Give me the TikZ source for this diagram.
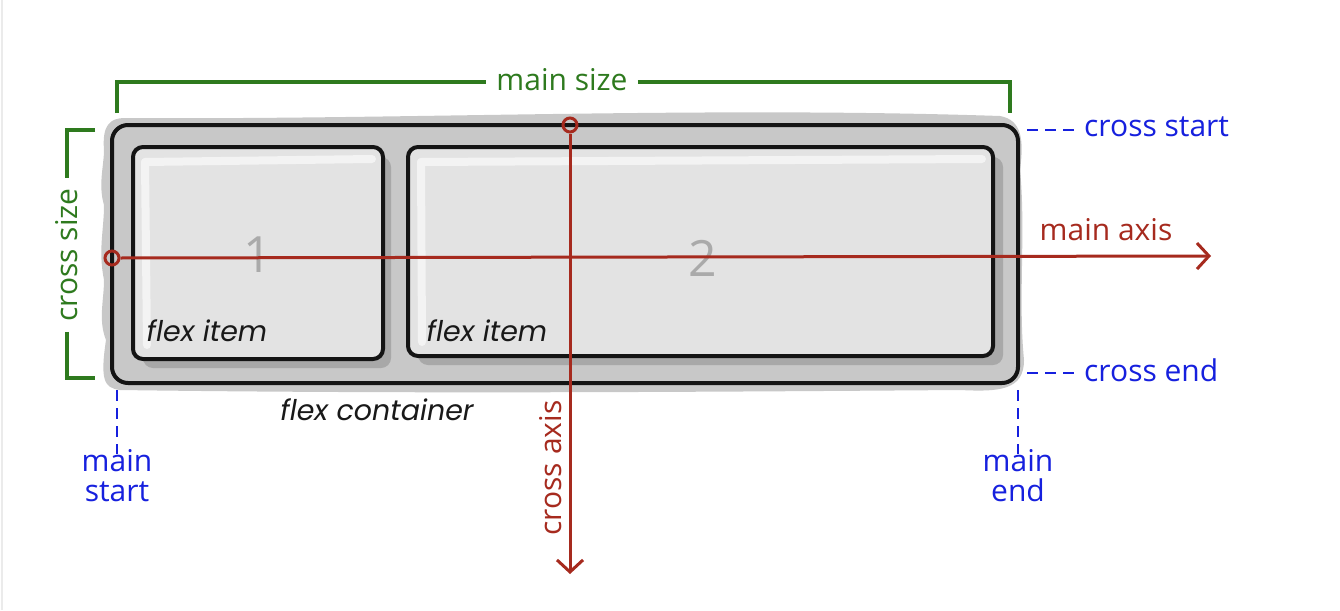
\documentclass[tikz,border=0pt]{standalone}
\usepackage{fontspec}
\setmainfont{Open Sans}
\newfontfamily\sketchfont{Poppins}
\usetikzlibrary{arrows.meta}
\definecolor{cgreen}{RGB}{46,122,30}
\definecolor{cred}{RGB}{166,42,30}
\definecolor{cblue}{RGB}{22,32,222}
\definecolor{shadeA}{RGB}{200,200,200}
\definecolor{shadeB}{RGB}{168,168,168}
\definecolor{itemfill}{RGB}{227,227,227}
\definecolor{numgray}{RGB}{170,170,170}
\tikzset{
  lbl/.style={font=\fontsize{30}{32}\selectfont, inner sep=0pt},
  ital/.style={font=\sketchfont\fontsize{28.5}{30}\selectfont\itshape, inner sep=0pt, text=black!90},
  num/.style={font=\fontsize{50}{52}\selectfont, inner sep=0pt, text=numgray},
  itembox/.style={draw=black!92, line width=4pt, fill=itemfill, rounded corners=10pt},
  itemshadow/.style={fill=shadeB, rounded corners=10pt},
  sizeline/.style={draw=cgreen, line width=3.5pt},
  axisline/.style={draw=cred, line width=3pt},
  axisarrow/.style={axisline, -{Straight Barb[length=12pt,width=26pt,line width=3pt]}},
  origin/.style={circle, draw=cred, line width=3pt, fill=none, minimum size=14pt, inner sep=0pt},
  guide/.style={draw=cblue, line width=2.5pt, dash pattern=on 11pt off 7pt},
}
\begin{document}
\begin{tikzpicture}[x=1pt,y=-1pt]
\useasboundingbox (0,0) rectangle (1340,610);
\fill[white] (0,0) rectangle (1340,610);
\draw[black!8, line width=2pt] (2,0) -- (2,610);

% wobbly container shadow
\fill[shadeA] (125,118) .. controls (400,120) and (700,106) .. (1000,116)
  .. controls (1022,120) and (1024,140) .. (1020,170)
  .. controls (1026,230) and (1018,300) .. (1024,360)
  .. controls (1024,390) and (1000,392) .. (960,390)
  .. controls (700,392) and (400,394) .. (120,390)
  .. controls (104,388) and (100,380) .. (106,340)
  .. controls (98,320) and (104,300) .. (104,280)
  .. controls (98,250) and (104,230) .. (104,205)
  .. controls (98,185) and (104,165) .. (104,150)
  .. controls (102,125) and (110,118) .. (125,118) -- cycle;

% container
\node[draw=black!92, line width=4pt, fill=shadeA, rounded corners=16pt,
  minimum width=906pt, minimum height=258pt, inner sep=0pt] (cont) at (565,254) {};

% item shadows
\fill[itemshadow] (143,157) rectangle (391,368);
\fill[itemshadow] (418,157) rectangle (1003,365);

% items
\node[itembox, minimum width=250pt, minimum height=212pt, inner sep=0pt] (it1) at (258,253) {};
\node[itembox, minimum width=585pt, minimum height=209pt, inner sep=0pt] (it2) at (700.5,251.5) {};
% highlights
\draw[white!55!itemfill, line width=8pt, line cap=round] (145,162) -- (372,159);
\draw[white!55!itemfill, line width=8pt, line cap=round] (145,162) -- (147,345);
\draw[white!55!itemfill, line width=8pt, line cap=round] (421,162) -- (982,159);
\draw[white!55!itemfill, line width=8pt, line cap=round] (421,162) -- (422,342);

\node[num] (n1) at (258,255) {1};
\node[num] (n2) at (703,258) {2};
\node[ital] (fi1) at (207,331) {flex item};
\node[ital] (fi2) at (487,331) {flex item};
\node[ital] (fc) at (377,410) {flex container};

% main size bracket
\node[lbl, text=cgreen] (ms) at (562,80) {main size};
\coordinate (msL) at (117,113);
\coordinate (msR) at (1010,113);
\draw[sizeline] (msL) -- (117,82) -- ([xshift=-10pt]ms.west |- 0,82);
\draw[sizeline] ([xshift=10pt]ms.east |- 0,82) -- (1010,82) -- (msR);

% cross size bracket
\node[lbl, text=cgreen, rotate=90] (cs) at (67,255) {cross size};
\draw[sizeline] (95,130) -- (67,130) -- ([yshift=10pt]cs.east -| 67,0);
\draw[sizeline] ([yshift=-10pt]cs.west -| 67,0) -- (67,378) -- (95,378);

% main axis
\node[origin] (mo) at (112,258) {};
\coordinate (maEnd) at (1211,256);
\draw[axisarrow] (mo.east) -- (maEnd);
\node[lbl, text=cred] (ma) at (1106,230) {main axis};

% cross axis
\node[origin] (co) at (570,125) {};
\coordinate (caEnd) at (570,574);
\draw[axisarrow] (co.south) -- (caEnd);
\node[lbl, text=cred, rotate=90] (ca) at (551,468) {cross axis};

% cross start / end
\node[lbl, text=cblue, anchor=west] (cst) at (1084,127) {cross start};
\node[lbl, text=cblue, anchor=west] (cen) at (1084,370) {cross end};
\draw[guide] (1027,130) -- ([xshift=-8pt]cst.west |- 0,130);
\draw[guide] (1027,373) -- ([xshift=-8pt]cen.west |- 0,373);

% main start / end
\node[lbl, text=cblue, align=center, font=\fontsize{30}{30}\selectfont] (mst) at (117,476) {main\\start};
\node[lbl, text=cblue, align=center, font=\fontsize{30}{30}\selectfont] (men) at (1018,476) {main\\end};
\draw[guide] (117,390) -- ([yshift=-4pt]mst.north);
\draw[guide] (1018,390) -- ([yshift=-4pt]men.north);
\end{tikzpicture}
\end{document}
